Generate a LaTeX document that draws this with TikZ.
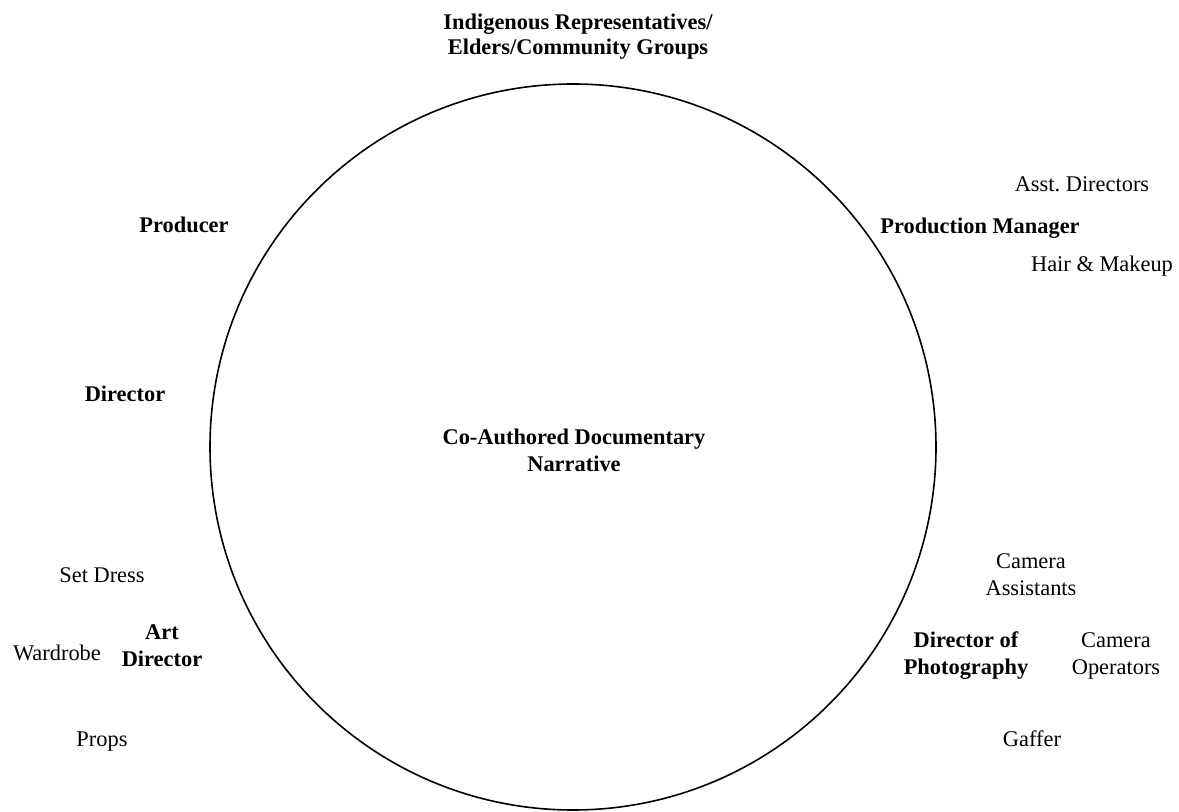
\documentclass[tikz,border=0pt]{standalone}
\usepackage{fontspec}
\setmainfont{Liberation Serif}
\frenchspacing

\begin{document}
\begin{tikzpicture}[x=0.5pt, y=-0.5pt,
  every node/.style={font=\fontsize{11.2}{13.8}\selectfont, inner sep=0, align=center, anchor=base},
  lead/.style={font=\fontsize{11.2}{13.8}\selectfont\bfseries},
  crew/.style={}]
\useasboundingbox (0,0) rectangle (1179,812);

\coordinate (m1) at (573,447);
\draw[line width=0.8pt] (m1) circle (363);

% two-line nodes sit on the baseline of their last line
\node[lead, font=\fontsize{11.2}{12.8}\selectfont\bfseries] (n1) at (578,55) {Indigenous Representatives/\\Elders/Community Groups};
\node[lead] (n2) at (574,472) {Co-Authored Documentary\\Narrative};

\node[lead] (n3) at (184,233) {Producer};
\node[lead] (n4) at (125,402) {Director};
\node[lead] (n5) at (162,667) {Art\\Director};
\node[crew] (n6) at (102,582) {Set Dress};
\node[crew] (n7) at (57,661) {Wardrobe};
\node[crew] (n8) at (102,747) {Props};

\node[lead] (n9) at (980,234) {Production Manager};
\node[crew] (n10) at (1082,192) {Asst. Directors};
\node[crew] (n11) at (1102,272) {Hair \& Makeup};

\node[lead] (n12) at (966,675) {Director of\\Photography};
\node[crew] (n13) at (1031,596) {Camera\\Assistants};
\node[crew] (n14) at (1116,675) {Camera\\Operators};
\node[crew] (n15) at (1032,747) {Gaffer};

\end{tikzpicture}
\end{document}
